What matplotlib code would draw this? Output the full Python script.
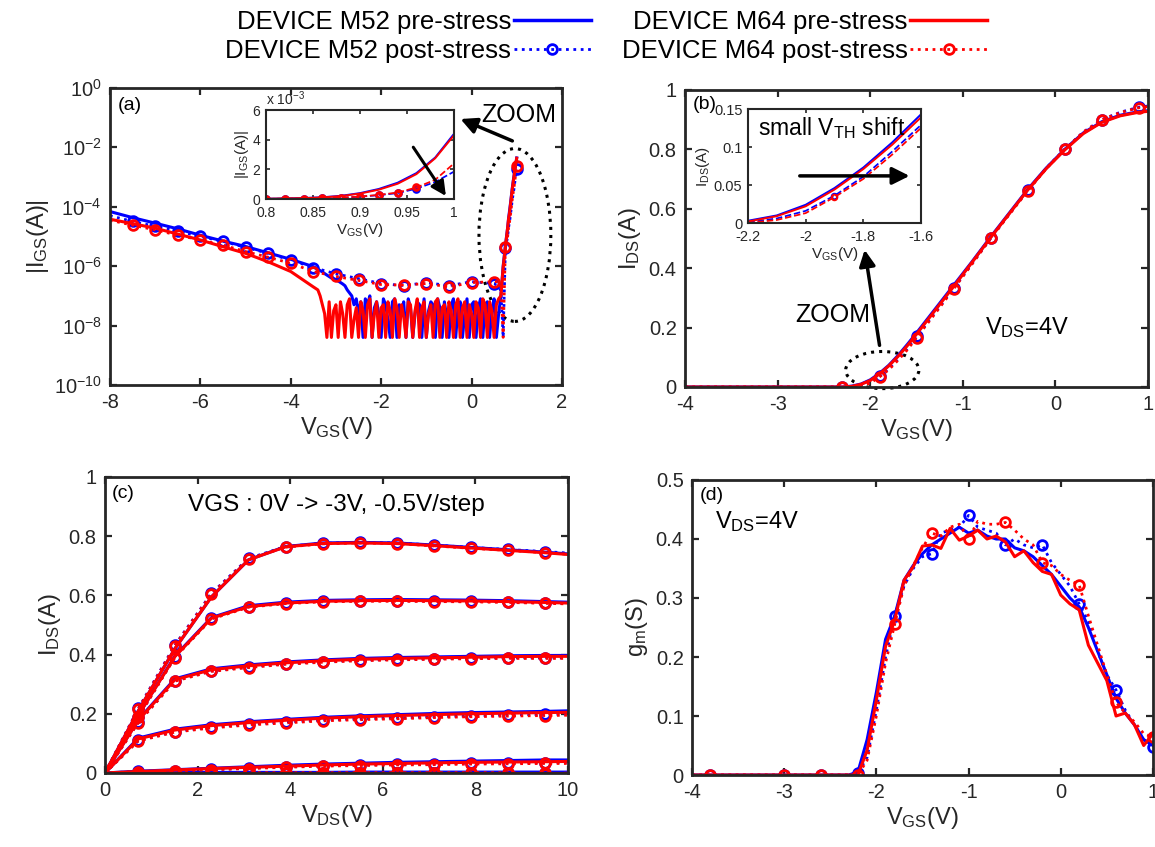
import numpy as np
import matplotlib
matplotlib.use('Agg')
import matplotlib.pyplot as plt
from matplotlib.patches import Ellipse
from matplotlib.lines import Line2D
from matplotlib.ticker import FuncFormatter, NullLocator

plt.rcParams['font.family'] = 'Liberation Sans'
plt.rcParams['mathtext.fontset'] = 'custom'
plt.rcParams['mathtext.rm'] = 'Liberation Sans'
plt.rcParams['mathtext.it'] = 'Liberation Sans:italic'
plt.rcParams['axes.unicode_minus'] = False

# ---------------- (a) gate leakage |IGS| vs VGS ----------------
a_v_smooth = [-8.0, -7.5, -7.0, -6.5, -6.0, -5.5, -5.0, -4.5, -4.0, -3.5]
a_v_noise = np.round(np.arange(-3.4, 0.61, 0.05), 2)
a_v_rise = [0.65, 0.7, 0.75, 0.8, 0.82, 0.84, 0.86, 0.88, 0.9, 0.92, 0.94, 0.96, 0.98, 1.0]

igs_pre_m52_smooth = [6.9e-5, 4.3e-5, 2.8e-5, 1.8e-5, 1.1e-5, 7.0e-6, 4.6e-6, 2.8e-6, 1.7e-6, 9.6e-7]
igs_pre_m64_smooth = [3.8e-5, 2.7e-5, 1.9e-5, 1.2e-5, 7.6e-6, 4.5e-6, 2.7e-6, 1.4e-6, 6.6e-7, 2.0e-7]
# noisy floor region, log10(A)
igs_pre_m52_noise_log = [
    -6.1, -6.15, -6.19, -6.25, -6.3, -6.35, -6.4, -6.43, -6.46, -6.5, -6.55, -6.6, -6.66,
    -6.8, -6.9, -7.0, -7.3, -7.1, -7.6, -7.2, -8.4, -7.1, -7.3,
    -7.0, -8.4, -7.4, -7.2, -7.6, -8.4, -7.1, -7.3, -7.8, -8.4,
    -7.2, -7.1, -8.4, -7.3, -7.5, -7.2, -8.4, -7.1, -7.4, -8.4,
    -7.6, -7.2, -7.3, -8.4, -7.1, -8.4, -7.5, -7.2, -7.3, -8.4,
    -7.1, -7.4, -8.4, -7.2, -7.7, -8.4, -7.3, -7.1, -8.4, -7.4,
    -7.2, -8.4, -7.6, -7.1, -8.4, -7.3, -7.2, -8.4, -7.4, -7.1,
    -8.4, -7.3, -7.2, -8.4, -7.5, -7.1, -8.4, -7.6]
igs_pre_m64_noise_log = [
    -6.8, -7.0, -7.3, -7.6, -8.4, -7.2, -8.4, -7.5, -7.3, -8.4,
    -7.2, -7.6, -8.4, -7.3, -7.1, -8.4, -7.8, -7.4, -8.4, -7.2,
    -7.5, -8.4, -7.3, -7.1, -8.4, -7.6, -7.2, -8.4, -7.4, -7.3,
    -8.4, -7.2, -7.5, -8.4, -7.1, -7.4, -8.4, -7.3, -7.7, -8.4,
    -7.2, -7.3, -8.4, -7.5, -7.1, -8.4, -7.4, -7.2, -8.4, -7.6,
    -7.3, -8.4, -7.2, -7.1, -8.4, -7.4, -7.3, -8.4, -7.2, -7.5,
    -8.4, -7.3, -7.1, -8.4, -7.4, -7.2, -8.4, -7.3, -7.6, -8.4,
    -7.2, -7.4, -8.4, -7.1, -7.3, -8.4, -7.2, -7.5, -8.4, -7.3,
    -7.1]
igs_pre_m52_rise = [1e-7, 1e-6, 5e-6, 2e-5, 4e-5, 7e-5, 1.2e-4, 2.2e-4, 4.0e-4, 6.8e-4,
                    1.10e-3, 1.75e-3, 2.80e-3, 4.40e-3]
igs_pre_m64_rise = [1e-7, 9e-7, 4.5e-6, 2e-5, 4e-5, 6e-5, 1.1e-4, 2.0e-4, 3.7e-4, 6.3e-4,
                    1.03e-3, 1.68e-3, 2.75e-3, 4.30e-3]

a_v_post = [-8.0, -7.5, -7.0, -6.5, -6.0, -5.5, -5.0, -4.5, -4.0, -3.5, -3.0, -2.5, -2.0,
            -1.5, -1.0, -0.5, 0.0, 0.5, 0.6, 0.65, 0.7, 0.75, 0.8, 0.82, 0.84, 0.86, 0.88,
            0.9, 0.92, 0.94, 0.96, 0.98, 1.0]
igs_post_m52 = [5e-5, 3.2e-5, 2.2e-5, 1.5e-5, 1.0e-5, 6.8e-6, 4.3e-6, 2.7e-6, 1.6e-6, 9e-7,
                5.5e-7, 3.8e-7, 2.6e-7, 2.2e-7, 2.8e-7, 2.2e-7, 3.0e-7, 2.6e-7, 2.0e-7, 1.5e-7,
                4e-9, 4e-6, 1e-5, 2e-5, 3e-5, 5e-5, 9e-5, 1.6e-4, 2.6e-4, 4.0e-4, 7.0e-4,
                1.15e-3, 1.85e-3]
igs_post_m64 = [3.5e-5, 2.4e-5, 1.66e-5, 1.1e-5, 7.6e-6, 5.1e-6, 3.1e-6, 2.0e-6, 1.25e-6, 6.6e-7,
                4.5e-7, 3.3e-7, 2.4e-7, 2.3e-7, 2.6e-7, 2.0e-7, 2.8e-7, 3.0e-7, 3.0e-7, 2.0e-7,
                4e-9, 4.5e-6, 1e-5, 2e-5, 3e-5, 5e-5, 9e-5, 1.7e-4, 2.8e-4, 4.4e-4, 7.8e-4,
                1.3e-3, 2.4e-3]
a_marks_main = [-7.5, -7.0, -6.5, -6.0, -5.5, -5.0, -4.5, -4.0, -3.5, -3.0, -2.5, -2.0,
                -1.5, -1.0, -0.5, 0.0, 0.5, 0.75, 1.0]
a_marks_inset = [0.8, 0.82, 0.84, 0.86, 0.88, 0.9, 0.92, 0.94, 0.96]

# ---------------- (b) transfer IDS vs VGS, VDS=4V ----------------
vb = [-4.0, -3.0, -2.3, -2.2, -2.1, -2.0, -1.9, -1.8, -1.7, -1.6, -1.5, -1.3, -1.1, -0.9,
      -0.7, -0.5, -0.3, -0.1, 0.1, 0.3, 0.5, 0.7, 0.9, 1.0]
ids_b_pre_m52 = [0, 0, 0, 0.003, 0.010, 0.024, 0.046, 0.073, 0.106, 0.143, 0.182, 0.262,
                 0.342, 0.422, 0.505, 0.585, 0.665, 0.737, 0.800, 0.855, 0.893, 0.915, 0.927, 0.930]
ids_b_pre_m64 = [0, 0, 0, 0.002, 0.009, 0.022, 0.044, 0.071, 0.103, 0.139, 0.178, 0.258,
                 0.338, 0.420, 0.503, 0.583, 0.663, 0.735, 0.798, 0.853, 0.891, 0.913, 0.925, 0.928]
ids_b_post_m52 = [0, 0, 0, 0.001, 0.006, 0.016, 0.036, 0.061, 0.094, 0.129, 0.170, 0.250,
                  0.332, 0.416, 0.500, 0.582, 0.662, 0.737, 0.800, 0.858, 0.900, 0.925, 0.942, 0.946]
ids_b_post_m64 = [0, 0, 0, 0.0, 0.004, 0.013, 0.034, 0.058, 0.090, 0.125, 0.166, 0.247,
                  0.330, 0.414, 0.500, 0.580, 0.660, 0.735, 0.800, 0.858, 0.900, 0.924, 0.940, 0.944]
b_marks = [-2.3, -1.9, -1.5, -1.1, -0.7, -0.3, 0.1, 0.5, 0.9]

# ---------------- (c) output IDS vs VDS ----------------
vc = [0, 0.72, 1.51, 2.3, 3.1, 3.9, 4.7, 5.5, 6.3, 7.1, 7.9, 8.7, 9.5, 10.0]
vgs_c = [0, -0.5, -1.0, -1.5, -2.0, -2.5, -3.0]
ids_c_pre_m52 = [
    [0, 0.210, 0.420, 0.595, 0.720, 0.765, 0.777, 0.779, 0.777, 0.770, 0.762, 0.754, 0.746, 0.740],
    [0, 0.195, 0.395, 0.525, 0.565, 0.577, 0.583, 0.585, 0.586, 0.585, 0.584, 0.582, 0.579, 0.577],
    [0, 0.180, 0.318, 0.352, 0.365, 0.375, 0.382, 0.387, 0.390, 0.392, 0.394, 0.396, 0.397, 0.397],
    [0, 0.118, 0.148, 0.163, 0.173, 0.181, 0.188, 0.193, 0.197, 0.201, 0.204, 0.206, 0.208, 0.210],
    [0, 0.006, 0.011, 0.016, 0.021, 0.026, 0.030, 0.033, 0.036, 0.038, 0.040, 0.042, 0.044, 0.044],
    [0, 0.001, 0.001, 0.002, 0.002, 0.002, 0.002, 0.003, 0.003, 0.003, 0.003, 0.003, 0.003, 0.003],
    [0, 0.0, 0.0, 0.0, 0.0, 0.0, 0.0, 0.0, 0.0, 0.0, 0.0, 0.0, 0.0, 0.0],
]
ids_c_pre_m64 = [
    [0, 0.210, 0.420, 0.595, 0.720, 0.764, 0.775, 0.777, 0.775, 0.768, 0.760, 0.752, 0.744, 0.738],
    [0, 0.195, 0.393, 0.523, 0.562, 0.574, 0.580, 0.582, 0.583, 0.582, 0.581, 0.579, 0.576, 0.574],
    [0, 0.178, 0.315, 0.349, 0.362, 0.372, 0.379, 0.384, 0.387, 0.389, 0.391, 0.393, 0.394, 0.394],
    [0, 0.115, 0.145, 0.160, 0.170, 0.178, 0.185, 0.190, 0.194, 0.197, 0.200, 0.202, 0.204, 0.205],
    [0, 0.005, 0.010, 0.015, 0.019, 0.023, 0.027, 0.030, 0.032, 0.034, 0.036, 0.037, 0.038, 0.039],
    [0, 0.0, 0.0, 0.0, 0.0, 0.0, 0.0, 0.0, 0.0, 0.0, 0.0, 0.0, 0.0, 0.0],
    [0, 0.0, 0.0, 0.0, 0.0, 0.0, 0.0, 0.0, 0.0, 0.0, 0.0, 0.0, 0.0, 0.0],
]
ids_c_post_m52 = [
    [0, 0.218, 0.432, 0.607, 0.725, 0.765, 0.776, 0.779, 0.777, 0.770, 0.762, 0.755, 0.748, 0.743],
    [0, 0.190, 0.392, 0.522, 0.562, 0.574, 0.580, 0.582, 0.582, 0.581, 0.580, 0.578, 0.575, 0.573],
    [0, 0.172, 0.312, 0.345, 0.358, 0.369, 0.376, 0.381, 0.384, 0.386, 0.388, 0.389, 0.389, 0.389],
    [0, 0.110, 0.140, 0.155, 0.165, 0.172, 0.179, 0.183, 0.186, 0.190, 0.193, 0.196, 0.198, 0.199],
    [0, 0.005, 0.008, 0.012, 0.016, 0.021, 0.025, 0.027, 0.029, 0.030, 0.033, 0.034, 0.035, 0.035],
    [0, 0.001, 0.001, 0.001, 0.001, 0.001, -0.006, 0.001, 0.001, 0.001, -0.006, 0.001, 0.001, 0.001],
    [0, 0.0, 0.0, 0.0, 0.0, 0.0, 0.0, 0.0, 0.0, 0.0, 0.0, 0.0, 0.0, 0.0],
]
ids_c_post_m64 = [
    [0, 0.216, 0.430, 0.605, 0.723, 0.763, 0.774, 0.777, 0.775, 0.767, 0.759, 0.752, 0.744, 0.739],
    [0, 0.188, 0.390, 0.520, 0.560, 0.572, 0.578, 0.580, 0.580, 0.579, 0.578, 0.576, 0.573, 0.571],
    [0, 0.170, 0.310, 0.343, 0.356, 0.367, 0.374, 0.379, 0.382, 0.384, 0.386, 0.387, 0.387, 0.387],
    [0, 0.108, 0.138, 0.152, 0.162, 0.169, 0.176, 0.180, 0.183, 0.187, 0.190, 0.192, 0.194, 0.195],
    [0, 0.004, 0.007, 0.011, 0.015, 0.019, 0.023, 0.025, 0.027, 0.028, 0.030, 0.031, 0.032, 0.032],
    [0, 0.001, 0.001, -0.005, 0.001, 0.001, 0.001, 0.001, 0.001, 0.001, 0.001, 0.001, -0.005, 0.0],
    [0, 0.0, 0.0, 0.0, 0.0, 0.0, 0.0, 0.0, 0.0, 0.0, 0.0, 0.0, 0.0, 0.0],
]

# ---------------- (d) transconductance gm vs VGS ----------------
vd = [-4.0, -3.8, -3.4, -3.0, -2.6, -2.3, -2.2, -2.1, -2.0, -1.9, -1.8, -1.7, -1.6, -1.5,
      -1.4, -1.3, -1.2, -1.1, -1.0, -0.9, -0.8, -0.7, -0.6, -0.5, -0.4, -0.3, -0.2, -0.1,
      0.0, 0.1, 0.2, 0.3, 0.4, 0.5, 0.6, 0.7, 0.8, 0.9, 1.0]
gm_pre_m52 = [0, 0, 0, 0, 0, 0,
              0.005, 0.06, 0.14, 0.23, 0.27, 0.33, 0.355, 0.375, 0.39, 0.40,
              0.41, 0.42, 0.41, 0.415, 0.405, 0.40, 0.40, 0.385, 0.38, 0.37,
              0.355, 0.34, 0.32, 0.30, 0.285, 0.25, 0.21, 0.17, 0.13, 0.105,
              0.085, 0.06, 0.05]
gm_pre_m64 = [0, 0, 0, 0, 0, 0,
              0.0, 0.042, 0.127, 0.218, 0.263, 0.33, 0.353, 0.388, 0.39, 0.384,
              0.418, 0.398, 0.405, 0.415, 0.40, 0.405, 0.395, 0.37, 0.38, 0.36,
              0.345, 0.34, 0.305, 0.29, 0.28, 0.22, 0.19, 0.16, 0.10, 0.105,
              0.085, 0.05, 0.07]
gm_post_m52 = [0, 0, 0, 0, 0, 0,
               0.003, 0.03, 0.11, 0.20, 0.27, 0.32, 0.35, 0.37, 0.375, 0.41,
               0.415, 0.42, 0.44, 0.42, 0.415, 0.41, 0.39, 0.40, 0.39, 0.385,
               0.39, 0.36, 0.34, 0.32, 0.29, 0.26, 0.21, 0.17, 0.144, 0.11,
               0.085, 0.06, 0.048]
gm_post_m64 = [0, 0, 0, 0, 0, 0,
               0.0, 0.025, 0.10, 0.19, 0.256, 0.32, 0.355, 0.385, 0.41, 0.405,
               0.42, 0.425, 0.40, 0.43, 0.425, 0.425, 0.428, 0.415, 0.40, 0.39,
               0.36, 0.355, 0.34, 0.33, 0.322, 0.27, 0.22, 0.17, 0.123, 0.105,
               0.09, 0.07, 0.064]
d_marks = [-3.8, -3.0, -2.6, -2.2, -1.8, -1.4, -1.0, -0.6, -0.2, 0.2, 0.6, 1.0]

BLUE = (0, 0, 1)
RED = (1, 0, 0)
GRAY = '0.15'


def idx(x, marks):
    x = np.asarray(x, dtype=float)
    return [int(np.argmin(np.abs(x - m))) for m in marks]


def style(ax, fs=14.5, lw=2.0, tl=5):
    for s in ax.spines.values():
        s.set_linewidth(lw)
        s.set_color(GRAY)
    ax.tick_params(direction='in', top=True, right=True, length=tl, width=lw * 0.8,
                   labelsize=fs, colors=GRAY, pad=6)


def pair(ax, xpre, pre, xpost, post, color, mk, lw=2.2, ls=':', ms=7, mew=2.0):
    ax.plot(xpre, pre, color=color, lw=lw)
    ax.plot(xpost, post, color=color, lw=lw * 0.9, ls=ls, marker='o', mfc='none',
            ms=ms, mew=mew, markevery=mk)


fig = plt.figure(figsize=(11.55, 8.47), dpi=100)
ax_a = fig.add_axes([0.0952, 0.5455, 0.3913, 0.3507])
ax_b = fig.add_axes([0.5931, 0.5431, 0.4009, 0.3507])
ax_c = fig.add_axes([0.0909, 0.0874, 0.4009, 0.3495])
ax_d = fig.add_axes([0.5991, 0.0850, 0.3991, 0.3483])

# ---- (a)
va_pre = list(a_v_smooth) + list(a_v_noise) + list(a_v_rise)
ia_m52 = igs_pre_m52_smooth + list(10 ** np.array(igs_pre_m52_noise_log)) + igs_pre_m52_rise
ia_m64 = igs_pre_m64_smooth + list(10 ** np.array(igs_pre_m64_noise_log)) + igs_pre_m64_rise
mk_a = idx(a_v_post, a_marks_main)
pair(ax_a, va_pre, ia_m52, a_v_post, igs_post_m52, BLUE, mk_a)
pair(ax_a, va_pre, ia_m64, a_v_post, igs_post_m64, RED, mk_a)
ax_a.set_yscale('log')
ax_a.set_xlim(-8, 2)
ax_a.set_ylim(1e-10, 1)
ax_a.set_yticks([1e-10, 1e-8, 1e-6, 1e-4, 1e-2, 1])
ax_a.yaxis.set_minor_locator(NullLocator())
ax_a.set_xticks([-8, -6, -4, -2, 0, 2])
style(ax_a)
ax_a.set_xlabel(r'$\mathregular{V_{GS}(V)}$', fontsize=17, color=GRAY, labelpad=2)
ax_a.set_ylabel(r'$\mathregular{|I_{GS}(A)|}$', fontsize=17, color=GRAY, labelpad=2)
ax_a.text(0.018, 0.97, '(a)', transform=ax_a.transAxes, ha='left', va='top', fontsize=14)
ax_a.add_patch(Ellipse((0.896, 0.505), 0.159, 0.582, transform=ax_a.transAxes,
                       fill=False, ls=':', lw=2.2, color='k', clip_on=False))
ax_a.annotate('', xy=(0.770, 0.899), xytext=(0.896, 0.818), xycoords='axes fraction',
              arrowprops=dict(arrowstyle='-|>', lw=2.5, color='k', mutation_scale=24))
ax_a.text(0.822, 0.909, 'ZOOM', transform=ax_a.transAxes, ha='left', va='center', fontsize=18)

in_a = fig.add_axes([0.2303, 0.7650, 0.1628, 0.1051])
mk_ia = idx(a_v_post, a_marks_inset)
pair(in_a, va_pre, ia_m52, a_v_post, igs_post_m52, BLUE, mk_ia, lw=1.4, ls='--', ms=4, mew=2.2)
pair(in_a, va_pre, ia_m64, a_v_post, igs_post_m64, RED, mk_ia, lw=1.4, ls='--', ms=4, mew=2.2)
in_a.set_xlim(0.8, 1.0)
in_a.set_ylim(0, 6e-3)
in_a.set_xticks([0.8, 0.85, 0.9, 0.95, 1.0])
in_a.set_yticks([0, 2e-3, 4e-3, 6e-3])
in_a.xaxis.set_major_formatter(FuncFormatter(lambda v, p: f'{v:g}'))
in_a.yaxis.set_major_formatter(FuncFormatter(lambda v, p: f'{v * 1e3:g}'))
style(in_a, fs=10, lw=1.5, tl=3)
in_a.tick_params(axis='y', pad=4)
in_a.tick_params(axis='x', pad=5)
in_a.set_xlabel(r'$\mathregular{V_{GS}(V)}$', fontsize=11, color=GRAY, labelpad=1)
in_a.set_ylabel(r'$\mathregular{|I_{GS}(A)|}$', fontsize=11, color=GRAY, labelpad=1)
in_a.text(0.0, 1.02, r'$\mathregular{x\ 10^{-3}}$', transform=in_a.transAxes,
          ha='left', va='bottom', fontsize=10, color=GRAY)
in_a.annotate('', xy=(0.993, 0.05e-3), xytext=(0.955, 3.65e-3),
              arrowprops=dict(arrowstyle='-|>', lw=2.2, color='k', mutation_scale=22))

# ---- (b)
mk_b = idx(vb, b_marks)
pair(ax_b, vb, ids_b_pre_m52, vb, ids_b_post_m52, BLUE, mk_b)
pair(ax_b, vb, ids_b_pre_m64, vb, ids_b_post_m64, RED, mk_b)
ax_b.set_xlim(-4, 1)
ax_b.set_ylim(0, 1)
ax_b.set_xticks([-4, -3, -2, -1, 0, 1])
ax_b.set_yticks([0, 0.2, 0.4, 0.6, 0.8, 1])
ax_b.yaxis.set_major_formatter(FuncFormatter(lambda v, p: f'{v:g}'))
style(ax_b)
ax_b.set_xlabel(r'$\mathregular{V_{GS}(V)}$', fontsize=17, color=GRAY, labelpad=2)
ax_b.set_ylabel(r'$\mathregular{I_{DS}(A)}$', fontsize=17, color=GRAY, labelpad=4)
ax_b.text(0.017, 0.98, '(b)', transform=ax_b.transAxes, ha='left', va='top', fontsize=14)
ax_b.add_patch(Ellipse((-1.87, 0.057), 0.79, 0.125, fill=False, ls=':', lw=2.2,
                       color='k', clip_on=False))
ax_b.annotate('', xy=(0.387, 0.471), xytext=(0.421, 0.131), xycoords='axes fraction',
              arrowprops=dict(arrowstyle='-|>', lw=2.5, color='k', mutation_scale=24))
ax_b.text(0.238, 0.242, 'ZOOM', transform=ax_b.transAxes, ha='left', va='center', fontsize=18)
ax_b.text(0.648, 0.199, r'$\mathregular{V_{DS}}$=4V', transform=ax_b.transAxes,
          ha='left', va='center', fontsize=17)

in_b = fig.add_axes([0.6476, 0.7367, 0.1498, 0.1346])
pair(in_b, vb, ids_b_pre_m52, vb, ids_b_post_m52, BLUE, mk_b, lw=1.4, ls='--', ms=4, mew=1.4)
pair(in_b, vb, ids_b_pre_m64, vb, ids_b_post_m64, RED, mk_b, lw=1.4, ls='--', ms=4, mew=1.4)
in_b.set_xlim(-2.2, -1.6)
in_b.set_ylim(0, 0.15)
in_b.set_xticks([-2.2, -2.0, -1.8, -1.6])
in_b.set_yticks([0, 0.05, 0.1, 0.15])
in_b.xaxis.set_major_formatter(FuncFormatter(lambda v, p: f'{v:g}'))
in_b.yaxis.set_major_formatter(FuncFormatter(lambda v, p: f'{v:g}'))
style(in_b, fs=10.5, lw=1.5, tl=3)
in_b.tick_params(axis='y', pad=4)
in_b.tick_params(axis='x', pad=5)
in_b.set_xlabel(r'$\mathregular{V_{GS}(V)}$', fontsize=11, color=GRAY, labelpad=1)
in_b.set_ylabel(r'$\mathregular{I_{DS}(A)}$', fontsize=11, color=GRAY, labelpad=1)
in_b.text(-2.165, 0.125, r'small $\mathregular{V_{TH}}$ shift', ha='left', va='center',
          fontsize=16.5)
in_b.annotate('', xy=(-1.63, 0.062), xytext=(-2.03, 0.062),
              arrowprops=dict(arrowstyle='-|>', lw=2.5, color='k', mutation_scale=26))

# ---- (c)
mk_c = list(range(1, 13))
for k in range(len(vgs_c)):
    pair(ax_c, vc, ids_c_pre_m52[k], vc, ids_c_post_m52[k], BLUE, mk_c)
for k in range(len(vgs_c)):
    pair(ax_c, vc, ids_c_pre_m64[k], vc, ids_c_post_m64[k], RED, mk_c)
ax_c.set_xlim(0, 10)
ax_c.set_ylim(0, 1)
ax_c.set_xticks([0, 2, 4, 6, 8, 10])
ax_c.set_yticks([0, 0.2, 0.4, 0.6, 0.8, 1])
ax_c.yaxis.set_major_formatter(FuncFormatter(lambda v, p: f'{v:g}'))
style(ax_c)
ax_c.set_xlabel(r'$\mathregular{V_{DS}(V)}$', fontsize=17, color=GRAY, labelpad=2)
ax_c.set_ylabel(r'$\mathregular{I_{DS}(A)}$', fontsize=17, color=GRAY, labelpad=4)
ax_c.text(0.015, 0.973, '(c)', transform=ax_c.transAxes, ha='left', va='top', fontsize=14)
ax_c.text(0.5, 0.905, 'VGS : 0V -> -3V, -0.5V/step', transform=ax_c.transAxes,
          ha='center', va='center', fontsize=17.5)

# ---- (d)
mk_d = idx(vd, d_marks)
pair(ax_d, vd, gm_pre_m52, vd, gm_post_m52, BLUE, mk_d)
pair(ax_d, vd, gm_pre_m64, vd, gm_post_m64, RED, mk_d)
ax_d.set_xlim(-4, 1)
ax_d.set_ylim(0, 0.5)
ax_d.set_xticks([-4, -3, -2, -1, 0, 1])
ax_d.set_yticks([0, 0.1, 0.2, 0.3, 0.4, 0.5])
ax_d.yaxis.set_major_formatter(FuncFormatter(lambda v, p: f'{v:g}'))
style(ax_d)
ax_d.set_xlabel(r'$\mathregular{V_{GS}(V)}$', fontsize=17, color=GRAY, labelpad=2)
ax_d.set_ylabel(r'$\mathregular{g_{m}(S)}$', fontsize=17, color=GRAY, labelpad=4)
ax_d.text(0.017, 0.976, '(d)', transform=ax_d.transAxes, ha='left', va='top', fontsize=14)
ax_d.text(0.05, 0.858, r'$\mathregular{V_{DS}}$=4V', transform=ax_d.transAxes,
          ha='left', va='center', fontsize=17)

# ---- legend
handles = [
    Line2D([], [], color=BLUE, lw=2.5),
    Line2D([], [], color=BLUE, lw=2, ls=':', marker='o', mfc='none', ms=7, mew=2),
    Line2D([], [], color=RED, lw=2.5),
    Line2D([], [], color=RED, lw=2, ls=':', marker='o', mfc='none', ms=7, mew=2),
]
labels = ['DEVICE M52 pre-stress', 'DEVICE M52 post-stress',
          'DEVICE M64 pre-stress', 'DEVICE M64 post-stress']
fig.legend(handles, labels, ncol=2, loc='upper center', bbox_to_anchor=(0.525, 1.0),
           frameon=False, markerfirst=False, fontsize=18.5, handlelength=3.0,
           handletextpad=0.1, columnspacing=1.2, labelspacing=0.2, borderaxespad=0.0)

fig.savefig('out.png', dpi=100)
